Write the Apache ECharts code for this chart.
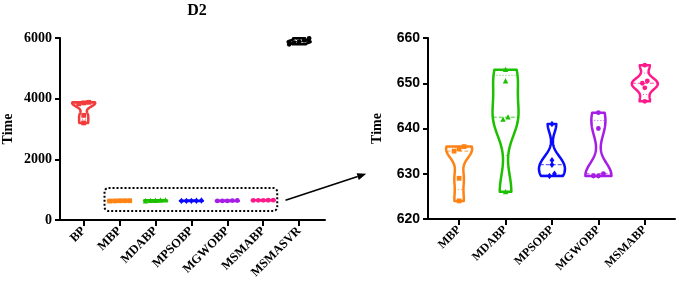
<!DOCTYPE html>
<html>
<head>
<meta charset="utf-8">
<script src="https://cdn.jsdelivr.net/npm/echarts@6/dist/echarts.min.js"></script>
<style>html,body{margin:0;padding:0;background:#fff}#chart{width:685px;height:293px}</style>
</head>
<body>
<div id="chart"></div>
<script>
// categories of both panels
var leftCategories = ['BP', 'MBP', 'MDABP', 'MPSOBP', 'MGWOBP', 'MSMABP', 'MSMASVR'];
var rightCategories = ['MBP', 'MDABP', 'MPSOBP', 'MGWOBP', 'MSMABP'];
var leftTicks = [0, 2000, 4000, 6000];
var rightTicks = [620, 630, 640, 650, 660];

// run times (5 runs each)
var bpTimes = [3200, 3450, 3830, 3860, 3880];
var mbpTimes = [624, 629, 635, 635.5, 636];
var mdabpTimes = [626, 642, 642.5, 650.5, 653];
var mpsobpTimes = [629.5, 630, 632, 633, 641];
var mgwobpTimes = [629.5, 629.5, 630, 640, 643.5];
var msmabpTimes = [646, 649, 650, 650.5, 654];
var msmasvrTimes = [5790, 5850, 5880, 5920, 5990];

var leftSamples = [bpTimes, mbpTimes, mdabpTimes, mpsobpTimes, mgwobpTimes, msmabpTimes, msmasvrTimes];
var rightSamples = [mbpTimes, mdabpTimes, mpsobpTimes, mgwobpTimes, msmabpTimes];
var leftColors = ['#f23c3c', '#ff8214', '#1cc000', '#0a0aff', '#a61ee6', '#ff1a8c', '#000000'];
var rightColors = leftColors.slice(1, 6);
var leftMarks = ['rect', 'rect', 'triangle', 'diamond', 'circle', 'circle', 'circle'];
var rightMarks = leftMarks.slice(1, 6);

var serif = 'Liberation Serif';
var sans = 'Liberation Sans';

function quantile(s, p){
	// (n+1)p method like prism
	var pos = (s.length + 1) * p - 1;
	if (pos <= 0) return s[0];
	if (pos >= s.length - 1) return s[s.length - 1];
	var f = Math.floor(pos);
	return s[f] + (s[f + 1] - s[f]) * (pos - f);
}

function makeViolin(samples, colors, marks, halfWidth){
	return function(params, api){
		var i = api.value(0);
		var vals = samples[i].slice().sort(function(a, b){ return a - b; });
		var lo = vals[0], hi = vals[vals.length - 1];
		var mean = vals.reduce(function(t, x){ return t + x; }, 0) / vals.length;
		var sd = Math.sqrt(vals.reduce(function(t, x){ return t + (x - mean) * (x - mean); }, 0) / (vals.length - 1));
		var h = sd * 0.4 || 1;
		var color = colors[i];
		function dens(v){
			var d = 0;
			vals.forEach(function(x){ d += Math.exp(-0.5 * Math.pow((v - x) / h, 2)); });
			return d;
		}
		var steps = 60, ds = [], dmax = 0;
		for (var k = 0; k <= steps; k++) {
			var d = dens(lo + (hi - lo) * k / steps);
			ds.push(d);
			if (d > dmax) dmax = d;
		}
		var right = [], left = [];
		for (k = 0; k <= steps; k++) {
			var p = api.coord([i, lo + (hi - lo) * k / steps]);
			var w = halfWidth * ds[k] / dmax;
			right.push([p[0] + w, p[1]]);
			left.unshift([p[0] - w, p[1]]);
		}
		var children = [{
			type: 'polygon',
			shape: { points: right.concat(left) },
			style: { fill: 'none', stroke: color, lineWidth: 2.5, lineJoin: 'round' }
		}];
		// median and quartile lines
		[[0.5, [4, 2]], [0.25, [1, 2]], [0.75, [1, 2]]].forEach(function(q){
			var v = quantile(vals, q[0]);
			var p = api.coord([i, v]);
			var w = halfWidth * dens(v) / dmax;
			children.push({
				type: 'line',
				shape: { x1: p[0] - w, y1: p[1], x2: p[0] + w, y2: p[1] },
				style: { stroke: color, lineWidth: 1, lineDash: q[1], opacity: 0.8 }
			});
		});
		// points, spread sideways when they overlap
		var pts = vals.map(function(v){ return api.coord([i, v]); });
		var groups = [], cur = [pts[0]];
		for (k = 1; k < pts.length; k++) {
			if (Math.abs(pts[k][1] - pts[k - 1][1]) < 4) cur.push(pts[k]);
			else { groups.push(cur); cur = [pts[k]]; }
		}
		groups.push(cur);
		var r = 2.4;
		groups.forEach(function(g){
			g.forEach(function(p, j){
				var x = p[0] + (j - (g.length - 1) / 2) * 5, y = p[1];
				var m = marks[i], el;
				if (m === 'circle') el = { type: 'circle', shape: { cx: x, cy: y, r: r } };
				else if (m === 'rect') el = { type: 'rect', shape: { x: x - r, y: y - r, width: 2 * r, height: 2 * r } };
				else if (m === 'triangle') el = { type: 'polygon', shape: { points: [[x, y - r - 0.5], [x + r + 0.3, y + r], [x - r - 0.3, y + r]] } };
				else el = { type: 'polygon', shape: { points: [[x, y - r - 0.8], [x + r, y], [x, y + r + 0.8], [x - r, y]] } };
				el.style = { fill: color };
				children.push(el);
			});
		});
		return { type: 'group', children: children };
	};
}

function catAxis(grid, cats, min, max, size){
	var ticks = cats.map(function(c, i){ return i; });
	return {
		type: 'value', gridIndex: grid, min: min, max: max,
		splitLine: { show: false },
		axisLine: { onZero: false, lineStyle: { color: '#000', width: 2 } },
		axisTick: { customValues: ticks, length: 6, lineStyle: { color: '#000', width: 2 } },
		axisLabel: {
			customValues: ticks, rotate: 45, margin: 9, color: '#000',
			fontFamily: serif, fontWeight: 'bold', fontSize: size,
			formatter: function(v){ return cats[Math.round(v)]; }
		}
	};
}

function valAxis(grid, ticks, font, size){
	return {
		type: 'value', gridIndex: grid,
		min: ticks[0], max: ticks[ticks.length - 1], interval: ticks[1] - ticks[0],
		name: 'Time', nameLocation: 'middle', nameGap: grid === 0 ? 45 : 44, nameRotate: 90,
		nameTextStyle: { fontFamily: serif, fontWeight: 'bold', fontSize: 14, color: '#000' },
		splitLine: { show: false },
		axisLine: { show: true, onZero: false, lineStyle: { color: '#000', width: 2 } },
		axisTick: { show: true, length: 5, lineStyle: { color: '#000', width: 2 } },
		axisLabel: {
			margin: 8, color: '#000', fontFamily: font, fontWeight: 'bold', fontSize: size,
			formatter: function(v){ return String(v); }
		}
	};
}

var myChart = echarts.init(document.getElementById('chart'));
var option = {
	backgroundColor: '#fff',
	animation: false,
	title: {
		text: 'D2', left: 192, top: -2, textAlign: 'center',
		textStyle: { fontFamily: serif, fontWeight: 'bold', fontSize: 16, color: '#000' }
	},
	grid: [
		{ left: 58, right: 360, top: 38, bottom: 73 },
		{ left: 428, right: 10, top: 38, bottom: 74 }
	],
	xAxis: [
		catAxis(0, leftCategories, -0.66, 6.72, 12.5),
		catAxis(1, rightCategories, -0.67, 4.65, 12)
	],
	yAxis: [
		valAxis(0, leftTicks, serif, 14),
		valAxis(1, rightTicks, sans, 14)
	],
	series: [{
		type: 'custom', xAxisIndex: 0, yAxisIndex: 0,
		renderItem: makeViolin(leftSamples, leftColors, leftMarks, 11.5),
		data: leftSamples.map(function(s, i){ return [i, Math.min.apply(null, s), Math.max.apply(null, s)]; }),
		encode: { x: 0, y: [1, 2] }
	}, {
		type: 'custom', xAxisIndex: 1, yAxisIndex: 1,
		renderItem: makeViolin(rightSamples, rightColors, rightMarks, 13),
		data: rightSamples.map(function(s, i){ return [i, Math.min.apply(null, s), Math.max.apply(null, s)]; }),
		encode: { x: 0, y: [1, 2] }
	}]
};
myChart.setOption(option);

// dotted box round the small violins and the arrow to the zoomed panel
var a = myChart.convertToPixel({ gridIndex: 0 }, [0.58, 1055]);
var b = myChart.convertToPixel({ gridIndex: 0 }, [5.39, 297]);
var s = myChart.convertToPixel({ gridIndex: 0 }, [5.62, 650]);
var e = myChart.convertToPixel({ gridIndex: 1 }, [-2, 630]);
var dx = e[0] - s[0], dy = e[1] - s[1], len = Math.sqrt(dx * dx + dy * dy);
var ux = dx / len, uy = dy / len;
var hx = e[0] - ux * 9, hy = e[1] - uy * 9;
myChart.setOption({
	graphic: [{
		type: 'rect',
		shape: { x: a[0], y: a[1], width: b[0] - a[0], height: b[1] - a[1], r: 4 },
		style: { fill: 'none', stroke: '#000', lineWidth: 2, lineDash: [2, 2] }
	}, {
		type: 'line',
		shape: { x1: s[0], y1: s[1], x2: hx, y2: hy },
		style: { stroke: '#000', lineWidth: 1.6 }
	}, {
		type: 'polygon',
		shape: { points: [[e[0], e[1]], [hx - uy * 3.5, hy + ux * 3.5], [hx + uy * 3.5, hy - ux * 3.5]] },
		style: { fill: '#000' }
	}]
});
</script>
</body>
</html>
